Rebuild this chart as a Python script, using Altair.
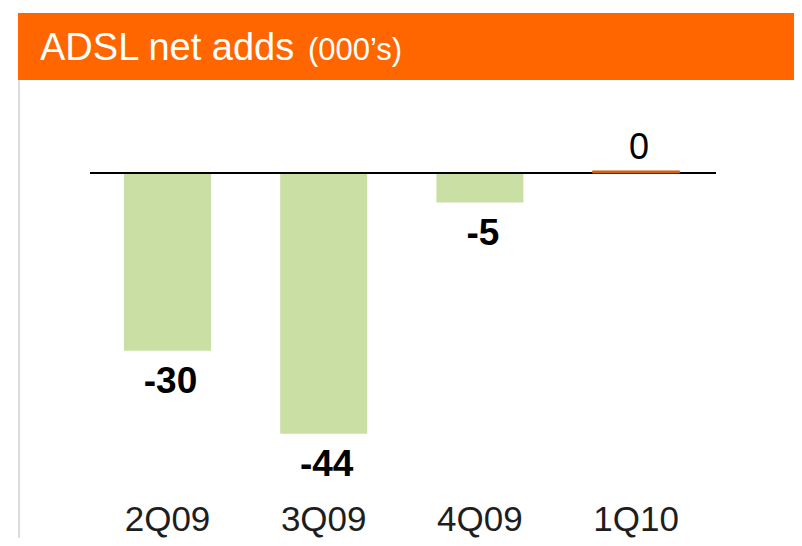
import altair as alt
import pandas as pd

quarters = ["2Q09", "3Q09", "4Q09", "1Q10"]
net_adds = [-30, -44, -5, 0]
title_main = "ADSL net adds"
title_unit = "(000\u2019s)"

df = pd.DataFrame({"quarter": quarters, "value": net_adds})

W, H = 786, 530
FONT = "Liberation Sans"

x_enc = alt.X("quarter:N", sort=quarters, axis=None,
              scale=alt.Scale(range=[81.4, 706.2], paddingInner=0, paddingOuter=0))
y_scale = alt.Scale(domain=[-61.56, 27.82], nice=False, zero=False)
y_enc = alt.Y("value:Q", axis=None, scale=y_scale)

base = alt.Chart(df)
one = alt.datum.quarter == quarters[0]

header = base.mark_rect(color="#FF6600").encode(
    x=alt.value(10), x2=alt.value(786), y=alt.value(5), y2=alt.value(72)
).transform_filter(one)

border = base.mark_rule(color="#dcdcdc", strokeWidth=2).encode(
    x=alt.value(11), y=alt.value(72), y2=alt.value(530)
).transform_filter(one)

t1 = base.mark_text(font=FONT, fontSize=38, color="white", align="left",
                    baseline="alphabetic", text=title_main).encode(
    x=alt.value(32), y=alt.value(52)
).transform_filter(one)

t2 = base.mark_text(font=FONT, fontSize=31, color="white", align="left",
                    baseline="alphabetic", text=title_unit).encode(
    x=alt.value(300), y=alt.value(52)
).transform_filter(one)

bars = base.mark_bar(size=87, color="#C9DFA3").encode(
    x=x_enc, y=y_enc, y2=alt.datum(0)
).transform_filter(alt.datum.value < 0)

zero_line = base.mark_rule(color="black", strokeWidth=2).encode(
    x=alt.value(82), x2=alt.value(708), y=alt.value(165)
).transform_filter(one)

zero_bar = base.mark_bar(size=87, color="#D2601A", stroke="#D2601A",
                         strokeWidth=1, yOffset=-2).encode(
    x=x_enc, y=y_enc, y2=alt.datum(0)
).transform_filter(alt.datum.value == 0)

labelled = base.transform_calculate(label="'' + datum.value")

neg_labels = labelled.mark_text(font=FONT, fontSize=37, fontWeight="bold", color="black",
                                baseline="alphabetic", dy=42, dx=3).encode(
    x=x_enc, y=y_enc, text="label:N"
).transform_filter(alt.datum.value < 0)

zero_labels = labelled.mark_text(font=FONT, fontSize=36, color="black",
                                 baseline="alphabetic", dy=-14, dx=3).encode(
    x=x_enc, y=y_enc, text="label:N"
).transform_filter(alt.datum.value == 0)

cat_labels = base.mark_text(font=FONT, fontSize=35, color="#1e1e1e",
                            baseline="alphabetic").encode(
    x=x_enc, y=alt.value(523), text="quarter:N"
)

chart = alt.layer(
    header, border, t1, t2, bars, zero_line, zero_bar, neg_labels, zero_labels, cat_labels
).properties(
    width=W, height=H, autosize=alt.AutoSizeParams(type="none"), padding=0
).configure_view(stroke=None)

chart.save("out.html", embed_options={"renderer": "svg", "actions": False})
